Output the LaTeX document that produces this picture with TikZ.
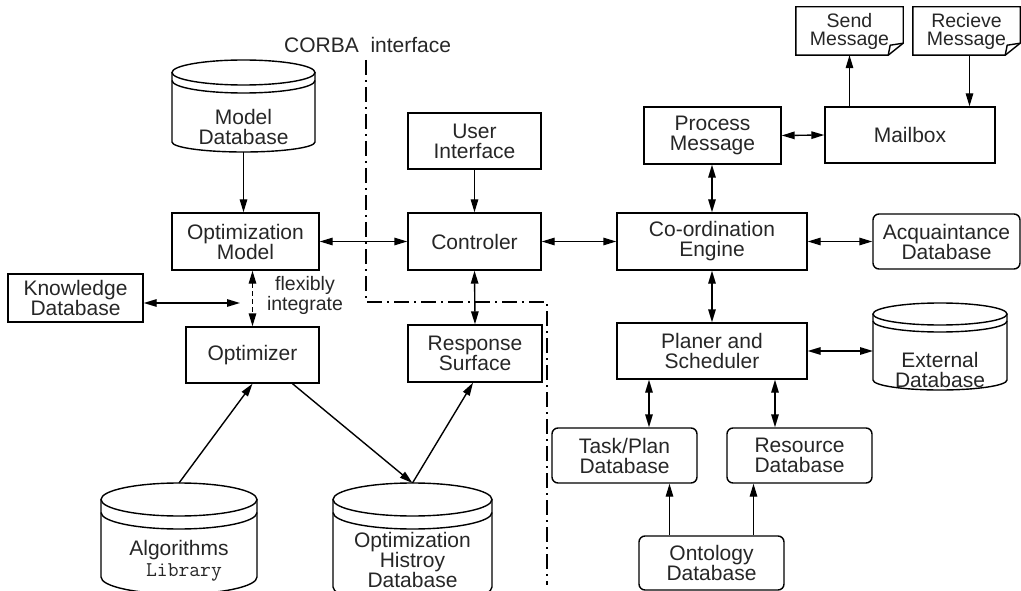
\documentclass[tikz,border=0pt]{standalone}
\usepackage{fontspec}
\setmainfont{Liberation Sans}
\usetikzlibrary{arrows.meta,calc}
\definecolor{txtc}{HTML}{262626}
\tikzset{
  ln/.style={line width=1.4pt, draw=black},
  txt/.style={font=\fontsize{21}{20}\selectfont, text=txtc, align=center, inner sep=0pt},
  box/.style={txt, draw=black, line width=1.4pt},
  rbox/.style={box, rounded corners=6pt},
  tip/.tip={Triangle[length=13pt,width=7.5pt]},
  fwd/.style={ln, -tip},
  both/.style={ln, tip-tip},
  corba/.style={line width=2pt, dash pattern=on 15pt off 5pt on 2pt off 5pt},
}
\newcommand\dbshape[8]{%
  \node[inner sep=0pt, outer sep=0pt, minimum width={2*#4pt}, minimum height={#7pt-#3pt}] (#1) at (#2,{(#3+#7)/2}) {};
  \draw[ln] (#2,{#3+#5}) ellipse [x radius=#4pt, y radius=#5pt];
  \draw[ln] ({#2-#4},{#3+#5+#6}) arc[start angle=180,end angle=360,x radius=#4pt,y radius=#5pt];
  \draw[ln] ({#2-#4},{#3+#5}) -- ({#2-#4},{#7-#8}) arc[start angle=180,end angle=360,x radius=#4pt,y radius=#8pt] -- ({#2+#4},{#3+#5});
}
\newcommand\notebox[1]{%
  \draw[ln] (#1.north west) -- (#1.north east) -- ([yshift=12pt]#1.south east) -- ([xshift=-15pt]#1.south east) -- (#1.south west) -- cycle;
  \draw[ln] ([xshift=-15pt]#1.south east) -- ([xshift=-13pt,yshift=10pt]#1.south east) -- ([yshift=12pt]#1.south east);
}
\begin{document}
\begin{tikzpicture}[x=1pt,y=-1pt]
\useasboundingbox (0,0) rectangle (1021,591);
\clip (0,0) rectangle (1021,591);

% cylinders
\dbshape{mdb}{243.5}{60}{71.5}{12.5}{8}{152}{10}
\node[txt] (mdbt) at (243.5,127) {Model\\Database};
\dbshape{alg}{179}{483}{78}{16.5}{13}{594}{17}
\node[txt] (algt) at (179,550) {Algorithms};
\node[txt, font=\fontsize{21}{20}\ttfamily] (algt2) at (184,572) {Library};
\dbshape{hist}{412.5}{483}{79.5}{16.5}{13}{604}{17}
\node[txt] (histt) at (412.5,560) {Optimization\\Histroy\\Database};
\dbshape{ext}{940}{303}{67}{11}{7}{390}{10}
\node[txt] (extt) at (940,370) {External\\Database};

% boxes
\node[box, minimum width=147pt, minimum height=57pt] (om) at (245.5,241.5) {Optimization\\Model};
\node[box, minimum width=135pt, minimum height=48pt] (kn) at (75.5,298) {Knowledge\\Database};
\node[box, minimum width=133pt, minimum height=56pt] (opt) at (252.5,355) {Optimizer};
\node[box, minimum width=133pt, minimum height=56pt] (ui) at (474.5,141) {User\\Interface};
\node[box, minimum width=133pt, minimum height=57pt] (ctrl) at (474.5,241.5) {Controler};
\node[box, minimum width=134pt, minimum height=57pt] (rs) at (475,353.5) {Response\\Surface};
\node[box, minimum width=137pt, minimum height=57pt] (pm) at (712.5,135.5) {Process\\Message};
\node[box, minimum width=170pt, minimum height=56pt] (mb) at (910,135) {Mailbox};
\node[txt, minimum width=107pt, minimum height=48pt, font=\fontsize{19.5}{18}\selectfont] (sm) at (849.5,31) {Send\\Message};
\notebox{sm}
\node[txt, minimum width=107pt, minimum height=48pt, font=\fontsize{19.5}{18}\selectfont] (rm) at (966.5,31) {Recieve\\Message};
\notebox{rm}
\node[box, minimum width=190pt, minimum height=57pt] (ce) at (712,241.5) {Co-ordination\\Engine};
\node[rbox, minimum width=147pt, minimum height=55pt] (aq) at (946.5,241.5) {Acquaintance\\Database};
\node[box, minimum width=190pt, minimum height=56pt] (pl) at (712,351) {Planer and\\Scheduler};
\node[rbox, minimum width=145pt, minimum height=55pt] (tp) at (624.5,455.5) {Task/Plan\\Database};
\node[rbox, minimum width=145pt, minimum height=55pt] (rd) at (799.5,455.5) {Resource\\Database};
\node[rbox, minimum width=145pt, minimum height=54pt] (on) at (711.5,563) {Ontology\\Database};

% labels
\node[txt, anchor=west] (corbat) at (284,45) {CORBA\ \ interface};
\node[txt, font=\fontsize{19.5}{20}\selectfont] (flex) at (305,295) {flexibly\\integrate};

% CORBA boundary
\coordinate (c1) at (366,60);
\coordinate (c2) at (366,302);
\coordinate (c3) at (547,302);
\coordinate (c4) at (547,585);
\draw[corba] (c1) -- (c2) -- (c3) -- (c4);

% connectors
\draw[fwd] (mdb.south) -- (om.north -| mdb.south);
\coordinate (kend) at (240,303);
\draw[both] (kn.east |- kend) -- (kend);
\draw[both, dash pattern=on 5pt off 3pt] (opt.north |- om.south) -- (opt.north);
\draw[fwd] (alg.north) -- (opt.south);
\draw[fwd] ([xshift=40pt]opt.south) -- (hist.north);
\draw[fwd] (hist.north) -- ([xshift=-2pt]rs.south);
\draw[both] (om.east) -- (ctrl.west);
\draw[fwd] (ui.south) -- (ctrl.north);
\draw[both] (ctrl.south) -- (rs.north);
\draw[both] (ctrl.east) -- (ce.west);
\draw[both] (pm.south -| ce.north) -- (ce.north);
\draw[both] (pm.east) -- (mb.west);
\draw[fwd] (sm.south |- mb.north) -- (sm.south);
\draw[fwd] ([xshift=3pt]rm.south) -- ([xshift=3pt]rm.south |- mb.north);
\draw[both] (ce.east) -- (aq.west);
\draw[both] (ce.south) -- (pl.north);
\draw[both] (pl.east) -- (pl.east -| ext.west);
\draw[both] ([xshift=-63pt]pl.south) -- ([xshift=-63pt]pl.south |- tp.north);
\draw[both] ([xshift=63pt]pl.south) -- ([xshift=63pt]pl.south |- rd.north);
\draw[fwd] ([xshift=-42pt]on.north) -- ([xshift=-42pt]on.north |- tp.south);
\draw[fwd] ([xshift=42pt]on.north) -- ([xshift=42pt]on.north |- rd.south);
\end{tikzpicture}
\end{document}
